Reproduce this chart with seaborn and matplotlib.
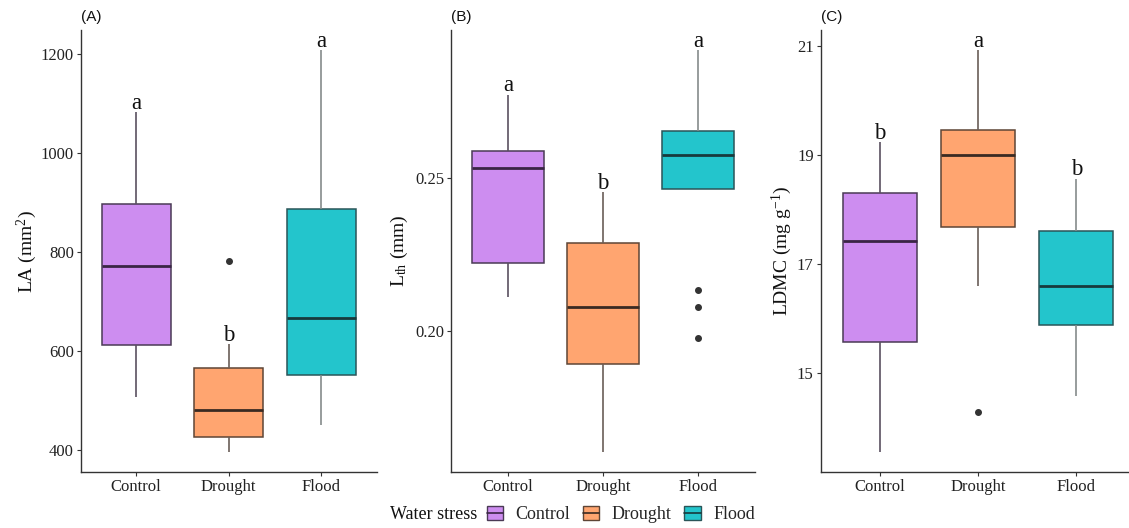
import numpy as np
import pandas as pd
import matplotlib
matplotlib.use("Agg")
import matplotlib.pyplot as plt
from matplotlib.patches import Patch
from matplotlib.lines import Line2D
from matplotlib.legend_handler import HandlerTuple
import seaborn as sns

# groups and colours
groups = ["Control", "Drought", "Flood"]
fill_colors = ["#CD8DF0", "#FFA570", "#23C5CC"]
edge_colors = ["#4a3a55", "#5e4536", "#2a5558"]
median_colors = ["#3a2545", "#3a2a22", "#173a3c"]
whisker_colors = ["#5a5060", "#6a5e58", "#858b8b"]

la_control = [506, 612, 770, 897, 1082]
la_drought = [395, 410, 426, 455, 480, 520, 566, 613, 782]
la_flood = [449, 550, 666, 887, 1207]

lth_control = [0.2112, 0.2222, 0.2532, 0.2587, 0.2773]
lth_drought = [0.1605, 0.1893, 0.2079, 0.2288, 0.2453]
lth_flood = [0.1979, 0.2079, 0.2133, 0.2466, 0.2500, 0.2540, 0.2576,
             0.2600, 0.2630, 0.2654, 0.2700, 0.2800, 0.2918]

ldmc_control = [13.54, 15.57, 17.43, 18.31, 19.24]
ldmc_drought = [14.27, 16.59, 17.67, 18.40, 19.00, 19.20, 19.47, 20.20, 20.93]
ldmc_flood = [14.58, 15.87, 16.59, 17.60, 18.57]

letters_la = ["a", "b", "a"]
letters_lth = ["a", "b", "a"]
letters_ldmc = ["b", "a", "b"]

ticks_la = [400, 600, 800, 1000, 1200]
ticks_lth = [0.20, 0.25]
ticks_ldmc = [15, 17, 19, 21]


def make_frame(values_by_group):
    rows = []
    for g, vals in zip(groups, values_by_group):
        for v in vals:
            rows.append({"Water stress": g, "value": v})
    return pd.DataFrame(rows)


sns.set_theme(style="ticks")
plt.rcParams["font.family"] = ["Liberation Serif", "DejaVu Serif"]
plt.rcParams["mathtext.fontset"] = "custom"
plt.rcParams["mathtext.rm"] = "Liberation Serif"
plt.rcParams["mathtext.it"] = "Liberation Serif:italic"

fig = plt.figure(figsize=(11.29, 5.28), dpi=100)

panels = [
    ("(A)", [la_control, la_drought, la_flood], letters_la, ticks_la,
     "LA (mm$^{2}$)", [0.0715, 0.1055, 0.2622, 0.8377], -0.142, "{:.0f}"),
    ("(B)", [lth_control, lth_drought, lth_flood], letters_lth, ticks_lth,
     "L$_{\\mathrm{th}}$ (mm)", [0.3995, 0.1055, 0.2693, 0.8377], -0.136, "{:.2f}"),
    ("(C)", [ldmc_control, ldmc_drought, ldmc_flood], letters_ldmc, ticks_ldmc,
     "LDMC (mg g$^{-1}$)", [0.7269, 0.1055, 0.2787, 0.8377], -0.085, "{:.0f}"),
]

for tag, vals, letters, ticks, ylabel, pos, labx, fmt in panels:
    ax = fig.add_axes(pos)
    df = make_frame(vals)
    for i, g in enumerate(groups):
        sub = df[df["Water stress"] == g]
        sns.boxplot(data=sub, x="Water stress", y="value", order=groups,
                    width=0.75, color=fill_colors[i], linecolor=edge_colors[i],
                    linewidth=1.1, showcaps=False, saturation=1, ax=ax,
                    boxprops=dict(facecolor=fill_colors[i], edgecolor=edge_colors[i]),
                    whiskerprops=dict(color=whisker_colors[i], linewidth=1.2),
                    medianprops=dict(color=median_colors[i], linewidth=2.0),
                    flierprops=dict(marker="o", markerfacecolor="#333333",
                                    markeredgecolor="#333333", markersize=4))

    # y range with 5% expansion, like the source figure
    allv = np.concatenate([np.asarray(v) for v in vals])
    lo, hi = allv.min(), allv.max()
    pad = 0.05 * (hi - lo)
    ax.set_ylim(lo - pad, hi + pad)
    ax.set_xlim(-0.6, 2.6)

    # significance letters just above upper whisker
    for i, v in enumerate(vals):
        v = np.asarray(v, dtype=float)
        q1, q3 = np.percentile(v, [25, 75])
        top = v[v <= q3 + 1.5 * (q3 - q1)].max()
        ax.annotate(letters[i], xy=(i, top), xytext=(0, 2.5),
                    textcoords="offset points", ha="center", va="baseline",
                    fontsize=16.5, color="#111111")

    ax.set_yticks(ticks)
    ax.set_yticklabels([fmt.format(t) for t in ticks])
    ax.set_xlabel("")
    ax.set_ylabel(ylabel, fontsize=14, color="#111111")
    ax.yaxis.set_label_coords(labx, 0.5)
    ax.tick_params(axis="both", labelsize=12, length=3, width=0.8,
                   color="#333333", labelcolor="#222222", pad=2)
    sns.despine(ax=ax)
    for s in ["left", "bottom"]:
        ax.spines[s].set_color("#333333")
        ax.spines[s].set_linewidth(1.0)

    fig.text(pos[0], 0.968, tag, fontsize=11, family=["Liberation Sans", "DejaVu Sans"],
             ha="left", va="center", color="#111111")

# legend at the bottom
handles = []
for i in range(3):
    handles.append((Patch(facecolor=fill_colors[i], edgecolor=edge_colors[i], linewidth=1.0),
                    Line2D([], [], color=median_colors[i], linewidth=1.2)))
fig.text(0.423, 0.025, "Water stress", fontsize=13, ha="right", va="center",
         color="#111111")
fig.legend(handles, groups, handler_map={tuple: HandlerTuple(ndivide=1)},
           loc="center left", bbox_to_anchor=(0.431, 0.025), ncol=3, frameon=False,
           fontsize=13, handlelength=0.9, handleheight=0.8, handletextpad=0.7,
           columnspacing=0.7, borderpad=0, borderaxespad=0)

fig.savefig("out.png", dpi=100)
